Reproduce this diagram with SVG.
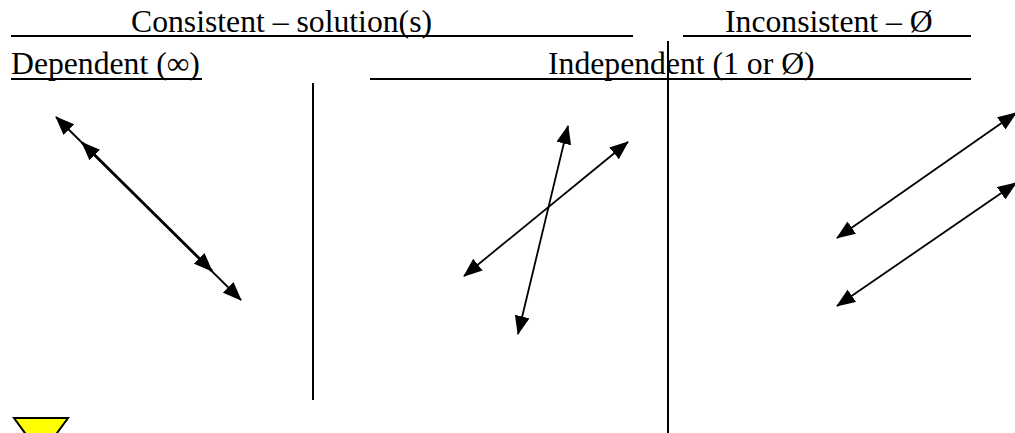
<svg xmlns="http://www.w3.org/2000/svg" width="1015" height="433" viewBox="0 0 1015 433">
<style>
text{font-family:"Liberation Serif","Times New Roman",serif;font-size:31.7px;fill:#000}
.rule{stroke:#000;stroke-width:2;fill:none}
.ln{stroke:#000;stroke-width:1.8;fill:none;marker-start:url(#ah);marker-end:url(#ah)}
.thick{stroke-width:2.8}
</style>
<defs>
<marker id="ah" markerUnits="userSpaceOnUse" viewBox="0 0 19 15" markerWidth="19" markerHeight="15" refX="18" refY="7.5" orient="auto-start-reverse">
<path d="M0,0 L19,7.5 L0,15 z" fill="#000"/>
</marker>
</defs>
<g id="headers">
<g id="consistent"><text x="131" y="32">Consistent – solution(s)</text><line class="rule" x1="11" y1="36" x2="633" y2="36"/></g>
<g id="inconsistent"><text x="725" y="32">Inconsistent – Ø</text><line class="rule" x1="683" y1="36" x2="971" y2="36"/></g>
<g id="dependent"><text x="11" y="74">Dependent (∞)</text><line class="rule" x1="11" y1="79" x2="202" y2="79"/></g>
<g id="independent"><text x="548" y="74">Independent (1 or Ø)</text><line class="rule" x1="370" y1="79" x2="971" y2="79"/></g>
</g>
<g id="dividers">
<line class="rule" x1="313" y1="83" x2="313" y2="400"/>
<line class="rule" x1="668" y1="41" x2="668" y2="433"/>
</g>
<g id="connectors">
<line class="ln" x1="56" y1="117" x2="241" y2="300"/>
<line class="ln thick" x1="82" y1="142.5" x2="212" y2="271"/>
<line class="ln" x1="568" y1="126" x2="518" y2="334"/>
<line class="ln" x1="628" y1="142" x2="464" y2="276"/>
<line class="ln" x1="1016" y1="113" x2="837" y2="238"/>
<line class="ln" x1="1016" y1="183" x2="837" y2="306"/>
</g>
<g id="yellow-shape">
<polygon points="14,418 68,418 41,455" fill="#ffff00" stroke="#000" stroke-width="2"/>
</g>
</svg>
